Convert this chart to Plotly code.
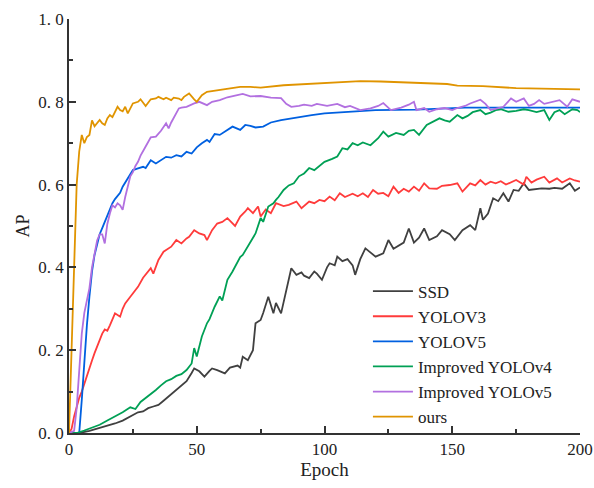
import plotly.graph_objects as go

# ---------------- data ----------------
ssd_x = [0, 4, 8, 12, 15, 18, 21, 24, 27, 29, 31, 33, 35, 37, 39, 41, 43, 45, 46, 48, 49, 51, 53, 55, 56, 58, 61, 63, 64, 66, 67, 68, 70, 71, 72, 73, 74, 75, 76, 78, 80, 81, 83, 85, 87, 89, 91, 92, 94, 96, 97, 99, 101, 102, 104, 105, 107, 109, 111, 112, 114, 116, 118, 120, 123, 125, 127, 129, 131, 133, 135, 137, 139, 141, 144, 146, 149, 151, 154, 157, 159, 161, 162, 164, 166, 168, 170, 172, 174, 176, 178, 180, 183, 185, 188, 190, 193, 196, 198, 200]
ssd_y = [0, 0.0, 0.005, 0.012, 0.017, 0.023, 0.03, 0.039, 0.05, 0.052, 0.06, 0.064, 0.068, 0.078, 0.088, 0.1, 0.108, 0.118, 0.125, 0.145, 0.156, 0.149, 0.136, 0.15, 0.156, 0.152, 0.144, 0.158, 0.16, 0.163, 0.158, 0.184, 0.176, 0.19, 0.2, 0.265, 0.269, 0.273, 0.29, 0.329, 0.289, 0.314, 0.289, 0.345, 0.398, 0.382, 0.388, 0.38, 0.374, 0.39, 0.385, 0.37, 0.4, 0.41, 0.405, 0.426, 0.415, 0.42, 0.405, 0.382, 0.42, 0.446, 0.435, 0.426, 0.434, 0.466, 0.445, 0.452, 0.46, 0.494, 0.46, 0.472, 0.494, 0.466, 0.475, 0.49, 0.48, 0.466, 0.49, 0.502, 0.49, 0.543, 0.515, 0.53, 0.567, 0.56, 0.579, 0.559, 0.587, 0.585, 0.603, 0.587, 0.59, 0.591, 0.59, 0.592, 0.59, 0.603, 0.585, 0.593]

yolov3_x = [0, 1, 2, 3, 4, 5, 6, 7, 8, 9, 10, 11, 12, 13, 14, 15, 16, 17, 18, 19, 20, 21, 22, 24, 26, 27, 29, 31, 32, 33, 35, 37, 38, 40, 42, 44, 46, 47, 49, 51, 53, 54, 56, 58, 60, 62, 65, 67, 69, 70, 72, 74, 75, 77, 79, 81, 84, 86, 89, 91, 94, 96, 98, 100, 102, 104, 106, 108, 111, 113, 115, 117, 119, 121, 123, 125, 127, 129, 131, 133, 135, 137, 139, 141, 144, 146, 149, 152, 154, 157, 159, 161, 163, 165, 167, 169, 171, 173, 175, 178, 179, 181, 183, 186, 188, 191, 193, 196, 198, 200]
yolov3_y = [0, 0.01, 0.04, 0.065, 0.085, 0.1, 0.12, 0.14, 0.16, 0.175, 0.193, 0.21, 0.225, 0.24, 0.25, 0.247, 0.26, 0.273, 0.289, 0.285, 0.281, 0.3, 0.313, 0.329, 0.345, 0.353, 0.375, 0.39, 0.398, 0.385, 0.418, 0.438, 0.442, 0.45, 0.466, 0.458, 0.47, 0.474, 0.49, 0.482, 0.478, 0.466, 0.49, 0.506, 0.51, 0.519, 0.5, 0.523, 0.535, 0.543, 0.531, 0.547, 0.523, 0.54, 0.531, 0.555, 0.548, 0.551, 0.559, 0.543, 0.559, 0.555, 0.563, 0.56, 0.571, 0.562, 0.579, 0.57, 0.578, 0.572, 0.579, 0.57, 0.587, 0.578, 0.58, 0.572, 0.595, 0.58, 0.59, 0.583, 0.595, 0.585, 0.603, 0.591, 0.59, 0.597, 0.599, 0.603, 0.583, 0.603, 0.598, 0.611, 0.6, 0.607, 0.603, 0.608, 0.6, 0.606, 0.611, 0.6, 0.619, 0.605, 0.612, 0.619, 0.605, 0.615, 0.605, 0.615, 0.61, 0.607]

yolov5_x = [0, 4, 5, 6, 7, 8, 9, 10, 11, 12, 13, 14, 15, 16, 17, 18, 19, 20, 21, 22, 23, 24, 25, 27, 29, 30, 32, 34, 36, 38, 40, 42, 44, 46, 48, 50, 52, 54, 55, 57, 59, 62, 64, 67, 69, 71, 73, 76, 79, 83, 87, 90, 95, 100, 110, 120, 136, 155, 200]
yolov5_y = [0, 0.0, 0.08, 0.18, 0.26, 0.33, 0.39, 0.43, 0.455, 0.48, 0.495, 0.51, 0.525, 0.54, 0.555, 0.565, 0.572, 0.58, 0.595, 0.605, 0.615, 0.628, 0.635, 0.639, 0.643, 0.64, 0.659, 0.651, 0.66, 0.667, 0.665, 0.671, 0.668, 0.679, 0.675, 0.69, 0.7, 0.708, 0.703, 0.722, 0.72, 0.732, 0.74, 0.732, 0.744, 0.742, 0.738, 0.74, 0.75, 0.756, 0.76, 0.764, 0.768, 0.772, 0.776, 0.78, 0.781, 0.786, 0.786]

iyolov4_x = [0, 3, 6, 9, 12, 15, 18, 21, 24, 26, 28, 30, 32, 34, 36, 38, 40, 42, 44, 46, 48, 49, 50, 52, 54, 55, 57, 59, 60, 61, 62, 64, 65, 67, 68, 70, 71, 73, 75, 76, 78, 80, 81, 82, 84, 86, 88, 90, 92, 94, 96, 98, 100, 103, 105, 107, 109, 111, 113, 115, 118, 121, 123, 125, 128, 131, 133, 135, 137, 140, 142, 145, 147, 149, 152, 154, 156, 158, 161, 163, 165, 167, 169, 172, 175, 178, 180, 183, 186, 188, 190, 192, 194, 197, 199, 200]
iyolov4_y = [0, 0.0, 0.006, 0.013, 0.02, 0.03, 0.039, 0.05, 0.062, 0.058, 0.075, 0.084, 0.095, 0.104, 0.115, 0.125, 0.13, 0.138, 0.142, 0.152, 0.168, 0.205, 0.185, 0.233, 0.265, 0.275, 0.305, 0.33, 0.32, 0.345, 0.37, 0.39, 0.402, 0.425, 0.43, 0.45, 0.46, 0.482, 0.519, 0.51, 0.547, 0.555, 0.563, 0.57, 0.587, 0.598, 0.603, 0.62, 0.627, 0.64, 0.635, 0.645, 0.655, 0.662, 0.668, 0.688, 0.685, 0.7, 0.695, 0.702, 0.695, 0.712, 0.728, 0.716, 0.725, 0.72, 0.73, 0.732, 0.72, 0.744, 0.75, 0.76, 0.755, 0.752, 0.768, 0.76, 0.766, 0.775, 0.78, 0.77, 0.774, 0.78, 0.782, 0.776, 0.778, 0.782, 0.78, 0.775, 0.78, 0.756, 0.775, 0.78, 0.77, 0.782, 0.78, 0.775]

iyolov5_x = [0, 2, 3, 4, 5, 6, 7, 8, 9, 10, 11, 12, 13, 14, 15, 16, 17, 18, 19, 20, 21, 22, 23, 24, 25, 26, 27, 28, 30, 32, 34, 36, 38, 39, 40, 42, 43, 44, 46, 49, 51, 54, 56, 59, 62, 65, 68, 71, 75, 79, 83, 85, 87, 90, 92, 95, 97, 101, 105, 108, 110, 114, 118, 121, 123, 126, 130, 133, 135, 136, 139, 141, 144, 147, 150, 152, 155, 157, 161, 163, 165, 168, 170, 173, 175, 178, 180, 182, 184, 186, 188, 190, 192, 195, 197, 200]
iyolov5_y = [0, 0.005, 0.06, 0.16, 0.24, 0.29, 0.32, 0.35, 0.4, 0.43, 0.465, 0.48, 0.48, 0.458, 0.505, 0.53, 0.55, 0.545, 0.555, 0.55, 0.539, 0.57, 0.595, 0.62, 0.63, 0.645, 0.655, 0.67, 0.692, 0.714, 0.716, 0.73, 0.748, 0.736, 0.75, 0.775, 0.784, 0.786, 0.788, 0.796, 0.8, 0.792, 0.8, 0.804, 0.811, 0.815, 0.819, 0.813, 0.814, 0.81, 0.809, 0.795, 0.788, 0.79, 0.793, 0.79, 0.795, 0.79, 0.795, 0.787, 0.79, 0.78, 0.784, 0.79, 0.797, 0.78, 0.786, 0.793, 0.8, 0.78, 0.785, 0.776, 0.782, 0.785, 0.78, 0.785, 0.79, 0.796, 0.805, 0.795, 0.78, 0.785, 0.788, 0.808, 0.8, 0.808, 0.79, 0.795, 0.804, 0.795, 0.798, 0.8, 0.804, 0.788, 0.806, 0.8]

ours_x = [0, 1, 2, 3, 4, 5, 6, 7, 8, 9, 10, 11, 12, 13, 14, 15, 16, 17, 18, 19, 20, 21, 22, 23, 25, 27, 28, 30, 32, 34, 35, 37, 38, 40, 41, 43, 44, 45, 47, 48, 49, 50, 52, 54, 58, 62, 67, 71, 75, 84, 97, 105, 114, 122, 130, 142, 148, 152, 162, 175, 188, 200]
ours_y = [0, 0.2, 0.45, 0.6, 0.68, 0.72, 0.7, 0.715, 0.72, 0.755, 0.741, 0.75, 0.756, 0.748, 0.744, 0.76, 0.768, 0.763, 0.775, 0.788, 0.78, 0.777, 0.788, 0.772, 0.796, 0.8, 0.806, 0.79, 0.806, 0.808, 0.812, 0.806, 0.81, 0.804, 0.81, 0.808, 0.804, 0.812, 0.82, 0.812, 0.806, 0.8, 0.816, 0.824, 0.828, 0.832, 0.836, 0.836, 0.834, 0.84, 0.845, 0.848, 0.85, 0.849, 0.847, 0.845, 0.843, 0.839, 0.838, 0.833, 0.831, 0.83]

series_names = ["SSD", "YOLOV3", "YOLOV5", "Improved YOLOv4", "Improved YOLOv5", "ours"]
x_ticks = [0, 50, 100, 150, 200]
y_ticks = [0.0, 0.2, 0.4, 0.6, 0.8, 1.0]
y_tick_labels = ["0. 0", "0. 2", "0. 4", "0. 6", "0. 8", "1. 0"]

# ---------------- figure ----------------
colors = ["#404040", "#ff3b3b", "#0060e0", "#00a055", "#b270e0", "#e09400"]
xs = [ssd_x, yolov3_x, yolov5_x, iyolov4_x, iyolov5_x, ours_x]
ys = [ssd_y, yolov3_y, yolov5_y, iyolov4_y, iyolov5_y, ours_y]

fig = go.Figure()
for name, x, y, c in zip(series_names, xs, ys, colors):
    fig.add_trace(go.Scatter(x=x, y=y, mode="lines", name=name,
                             line=dict(color=c, width=1.8)))

serif = "Liberation Serif, Times New Roman, serif"
axis_common = dict(showline=True, linecolor="#333333", linewidth=1.5,
                   ticks="inside", ticklen=7, tickwidth=1.5, tickcolor="#333333",
                   showgrid=False, zeroline=False, mirror=False, automargin=False,
                   tickfont=dict(family=serif, size=17, color="#222222"))

fig.update_layout(
    width=594, height=488,
    margin=dict(l=69, r=14, t=19, b=55),
    plot_bgcolor="white", paper_bgcolor="white",
    font=dict(family=serif, size=16, color="#222222"),
    xaxis=dict(range=[0, 200], tickvals=x_ticks,
               title=dict(text="Epoch", font=dict(family=serif, size=19), standoff=4),
               minor=dict(dtick=25, ticks="inside", ticklen=4, tickwidth=1.5, tickcolor="#333333"),
               **axis_common),
    yaxis=dict(range=[0, 1.0], tickvals=y_ticks, ticktext=y_tick_labels,
               title=dict(text="AP", font=dict(family=serif, size=18), standoff=4),
               minor=dict(dtick=0.1, ticks="inside", ticklen=4, tickwidth=1.5, tickcolor="#333333"),
               **axis_common),
    legend=dict(x=0.585, y=0.385, xanchor="left", yanchor="top",
                bgcolor="rgba(0,0,0,0)", font=dict(family=serif, size=17),
                itemwidth=40, tracegroupgap=0),
    showlegend=True,
)

# remove the default 8px page margin so the figure fills the window exactly
fig.write_html("out.html", config={"displayModeBar": False},
               post_script="document.body.style.margin='0';document.body.style.overflow='hidden';")
